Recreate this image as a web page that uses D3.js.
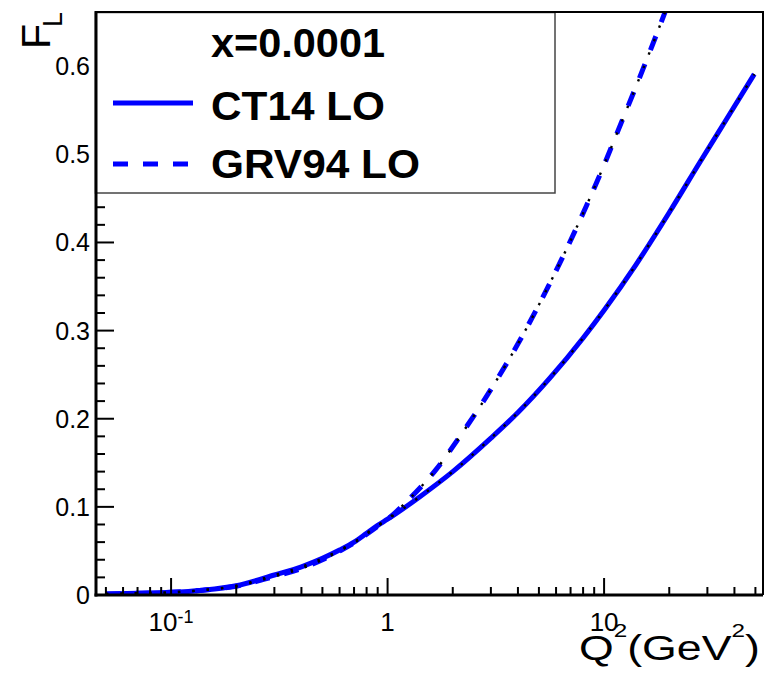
<!DOCTYPE html>
<html><head><meta charset="utf-8">
<script src="https://cdn.jsdelivr.net/npm/d3@7"></script>
<style>body{margin:0;background:#fff}svg{display:block}text{font-family:"Liberation Sans",Arial,Helvetica,sans-serif}</style>
</head><body>
<svg id="c" width="765" height="673"></svg>
<script>
// ---- data ----
const ct14Q2 = [0.05,0.07,0.1,0.14,0.2,0.3,0.4,0.5,0.6,0.7,0.8,0.9,1,1.4,2,3,4,5.6,8,10,14,20,27.7,37,49.4];
const ct14FL = [0.0011,0.002,0.003,0.0055,0.0105,0.0227,0.032,0.0416,0.051,0.06,0.07,0.079,0.086,0.111,0.14,0.178,0.207,0.2457,0.2917,0.3232,0.3744,0.434,0.491,0.541,0.591];
const grvQ2 = [0.05,0.07,0.1,0.14,0.2,0.3,0.4,0.5,0.6,0.7,0.8,0.9,1,1.26,1.67,2.2,3.12,4,5.6,8.3,10,12.1,14.1,16,18.3,19.3];
const grvFL = [0.0011,0.002,0.003,0.0055,0.010,0.021,0.030,0.040,0.050,0.059,0.069,0.078,0.086,0.109,0.142,0.183,0.24,0.285,0.353,0.442,0.488,0.538,0.578,0.612,0.649,0.664];
const xMajorTicks = [0.1,1,10];
const xTickLabels = [["10","-1"],["1",""],["10",""]];
const yMajorTicks = [0,0.1,0.2,0.3,0.4,0.5,0.6];
const yTickLabels = ["0","0.1","0.2","0.3","0.4","0.5","0.6"];
const legendTitle = "x=0.0001";
const seriesNames = ["CT14 LO","GRV94 LO"];

// ---- layout ----
const L = 96, R = 763, T = 12, B = 595;
const svg = d3.select("#c");
const x = d3.scaleLog().domain([0.045, 54.2]).range([L, R]);
const y = d3.scaleLinear().domain([0, 0.6615]).range([B, T]);

svg.append("clipPath").attr("id","clp").append("rect")
  .attr("x",L).attr("y",T).attr("width",R-L).attr("height",B-T);

const line = d3.line().x(d=>x(d[0])).y(d=>y(d[1])).curve(d3.curveMonotoneX);
const ct14 = ct14Q2.map((q,i)=>[q,ct14FL[i]]);
const grv = grvQ2.map((q,i)=>[q,grvFL[i]]);

const g = svg.append("g").attr("clip-path","url(#clp)");
g.append("path").attr("d",line(ct14)).attr("fill","none")
  .attr("stroke","#0000ff").attr("stroke-width",5);
g.append("path").attr("d",line(grv)).attr("fill","none")
  .attr("stroke","#0000ff").attr("stroke-width",5).attr("stroke-dasharray","15,15");
// thin black dotted overlays
[ct14, grv].forEach(s=>{
  g.append("path").attr("d",line(s)).attr("fill","none")
   .attr("stroke","#000").attr("stroke-width",2.4).attr("stroke-dasharray","2.4,12");
});

// ---- axes ----
const ax = svg.append("g");
const xMinor = [];
for (let dec of [0.01,0.1,1,10]) for (let k=2;k<=9;k++){const v=k*dec; if(v>=0.045&&v<=54.2) xMinor.push(v);}
ax.selectAll(".xm").data(xMinor).enter().append("line")
  .attr("x1",d=>x(d)).attr("x2",d=>x(d)).attr("y1",B).attr("y2",B-8)
  .attr("stroke","#000").attr("stroke-width",2);
ax.selectAll(".xM").data(xMajorTicks).enter().append("line")
  .attr("x1",d=>x(d)).attr("x2",d=>x(d)).attr("y1",B).attr("y2",B-17)
  .attr("stroke","#000").attr("stroke-width",2);
const yMinor = d3.range(0,34).map(i=>i*0.02).filter(v=>v<=0.6615 && Math.abs(v*10-Math.round(v*10))>1e-6);
ax.selectAll(".ym").data(yMinor).enter().append("line")
  .attr("x1",L).attr("x2",L+9).attr("y1",d=>y(d)).attr("y2",d=>y(d))
  .attr("stroke","#000").attr("stroke-width",2);
ax.selectAll(".yM").data(yMajorTicks).enter().append("line")
  .attr("x1",L).attr("x2",L+18).attr("y1",d=>y(d)).attr("y2",d=>y(d))
  .attr("stroke","#000").attr("stroke-width",2);

// ---- legend ----
const lg = svg.append("g");
lg.append("rect").attr("x",95.5).attr("y",12.5).attr("width",459.5).attr("height",180.5)
  .attr("fill","#fff").attr("stroke","#444").attr("stroke-width",1.5);
function fitText(sel, w){ sel.attr("textLength",w).attr("lengthAdjust","spacingAndGlyphs"); }
fitText(lg.append("text").attr("x",211).attr("y",57).attr("font-size",40).attr("font-weight","bold").text(legendTitle),174);
fitText(lg.append("text").attr("x",211).attr("y",120).attr("font-size",40).attr("font-weight","bold").text(seriesNames[0]),174);
fitText(lg.append("text").attr("x",211).attr("y",178).attr("font-size",40).attr("font-weight","bold").text(seriesNames[1]),209);
lg.append("line").attr("x1",113).attr("x2",193).attr("y1",103).attr("y2",103).attr("stroke","#0000ff").attr("stroke-width",5);
lg.append("line").attr("x1",113).attr("x2",193).attr("y1",164).attr("y2",164).attr("stroke","#0000ff").attr("stroke-width",5).attr("stroke-dasharray","15,15");

// frame
svg.append("line").attr("x1",L).attr("x2",R).attr("y1",T).attr("y2",T).attr("stroke","#000").attr("stroke-width",2);
svg.append("line").attr("x1",R).attr("x2",R).attr("y1",T-1).attr("y2",B).attr("stroke","#000").attr("stroke-width",2);
svg.append("line").attr("x1",L).attr("x2",L).attr("y1",T-1).attr("y2",B+1.5).attr("stroke","#000").attr("stroke-width",3);
svg.append("line").attr("x1",L-1.5).attr("x2",R).attr("y1",B).attr("y2",B).attr("stroke","#000").attr("stroke-width",3);

// tick labels
ax.selectAll(".yl").data(yMajorTicks).enter().append("text")
  .attr("x",90).attr("y",d=>y(d)).attr("dy","0.36em").attr("text-anchor","end")
  .attr("font-size",25).text((d,i)=>yTickLabels[i]);
xMajorTicks.forEach((v,i)=>{
  const t = svg.append("text").attr("x",x(v)).attr("y",631).attr("text-anchor","middle").attr("font-size",26);
  t.append("tspan").text(xTickLabels[i][0]);
  if (xTickLabels[i][1]) t.append("tspan").attr("font-size",18).attr("dy",-8).text(xTickLabels[i][1]);
});

// x axis title, stretched horizontally to the reference width
const xtG = svg.append("g");
const xt = xtG.append("text").attr("x",0).attr("y",0).attr("font-size",35);
xt.append("tspan").text("Q");
xt.append("tspan").attr("font-size",19).attr("dy",-23).text("2");
xt.append("tspan").attr("dy",23).text("(GeV");
xt.append("tspan").attr("font-size",19).attr("dy",-23).text("2");
xt.append("tspan").attr("dy",23).text(")");
const bb = xt.node().getBBox();
const sx = 181 / bb.width;
xtG.attr("transform",`translate(${760 - (bb.x+bb.width)*sx},660) scale(${sx},1)`);

svg.append("text").attr("transform","translate(49.5,49) rotate(-90)").attr("font-size",41).text("F");
svg.append("text").attr("transform","translate(62,27) rotate(-90)").attr("font-size",27).text("L");
</script>
</body></html>
